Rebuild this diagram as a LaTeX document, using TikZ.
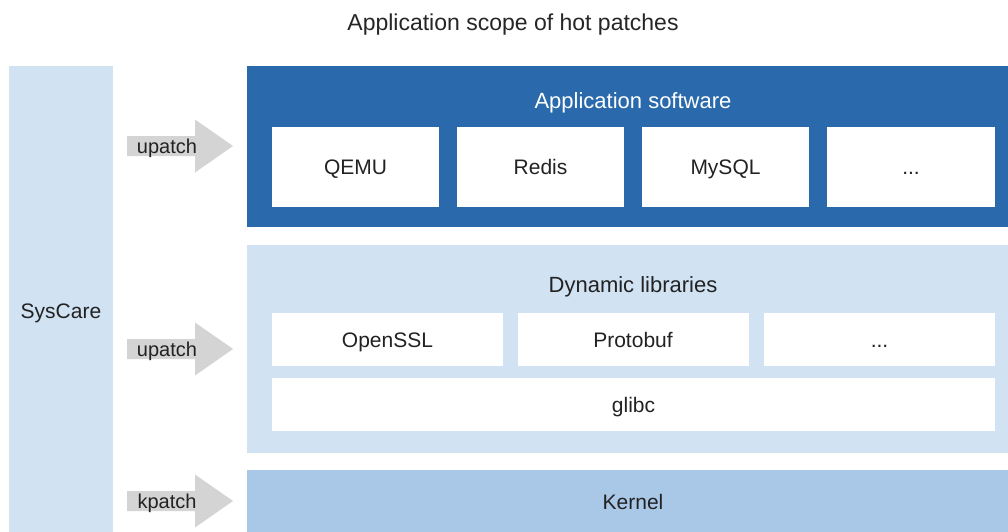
\documentclass[tikz,border=0pt]{standalone}
\usepackage{fontspec}
\setmainfont{Liberation Sans}
\usetikzlibrary{positioning}
\definecolor{darkblue}{HTML}{2A6AAC}
\definecolor{lightblue}{HTML}{D1E2F3}
\definecolor{kernelblue}{HTML}{A9C8E8}
\definecolor{arrowgray}{HTML}{D4D4D4}
\definecolor{txt}{HTML}{222222}
\tikzset{
  blk/.style={rectangle, inner sep=0pt, outer sep=0pt, text=txt, text height=15pt, text depth=0pt, font=\fontsize{21}{24}\selectfont},
  whitebox/.style={blk, fill=white},
  lbl/.style={inner sep=0pt, text=txt, text height=14.3pt, text depth=0pt, font=\fontsize{20}{23}\selectfont},
  head/.style={lbl, text height=15.7pt, font=\fontsize{22}{25}\selectfont},
}
\begin{document}
\begin{tikzpicture}[x=1pt,y=-1pt]
\useasboundingbox (0,0) rectangle (1008,532);
\fill[white] (0,0) rectangle (1008,532);
% title
\node[head, text height=16.5pt, font=\fontsize{23}{26}\selectfont, text=black!85] (title) at (513,22) {Application scope of hot patches};
% SysCare column
\node[blk, fill=lightblue, minimum width=104pt, minimum height=466pt] (syscare) at (61,299) {};
\node[lbl, text height=15pt, font=\fontsize{21}{24}\selectfont] (syscaretitle) at (61,311) {SysCare};
% application software
\node[blk, fill=darkblue, minimum width=761pt, minimum height=161pt] (app) at (627.5,146.5) {};
\node[head, text=white] (apptitle) at (633,101) {Application software};
\node[whitebox, minimum width=167pt, minimum height=80pt] (qemu) at (355.5,167) {QEMU};
\node[whitebox, minimum width=167pt, minimum height=80pt] (redis) at (540.5,167) {Redis};
\node[whitebox, minimum width=167pt, minimum height=80pt] (mysql) at (725.5,167) {MySQL};
\node[whitebox, minimum width=168pt, minimum height=80pt] (appdots) at (911,167) {...};
% dynamic libraries
\node[blk, fill=lightblue, minimum width=761pt, minimum height=208pt] (dyn) at (627.5,349) {};
\node[head] (dyntitle) at (633,285) {Dynamic libraries};
\node[whitebox, minimum width=231pt, minimum height=53pt] (openssl) at (387.5,339.5) {OpenSSL};
\node[whitebox, minimum width=231pt, minimum height=53pt] (protobuf) at (633,339.5) {Protobuf};
\node[whitebox, minimum width=231pt, minimum height=53pt] (dyndots) at (879.5,339.5) {...};
\node[whitebox, minimum width=723pt, minimum height=53pt] (glibc) at (633.5,404.5) {glibc};
% kernel
\node[blk, fill=kernelblue, minimum width=761pt, minimum height=62pt] (kernel) at (627.5,501) {};
\node[head, text height=15pt, font=\fontsize{21}{24}\selectfont] (kerneltitle) at (633,502) {Kernel};
% block arrows
\foreach \yy/\nm/\tx in {146/a1/upatch, 349/a2/upatch, 501/a3/kpatch}{
  \fill[arrowgray] (127,\yy-10) -- (195,\yy-10) -- (195,\yy-26.5) -- (233,\yy) -- (195,\yy+26.5) -- (195,\yy+10) -- (127,\yy+10) -- cycle;
  \node[lbl] (\nm) at (167,\yy) {\tx};
}
\end{tikzpicture}
\end{document}
